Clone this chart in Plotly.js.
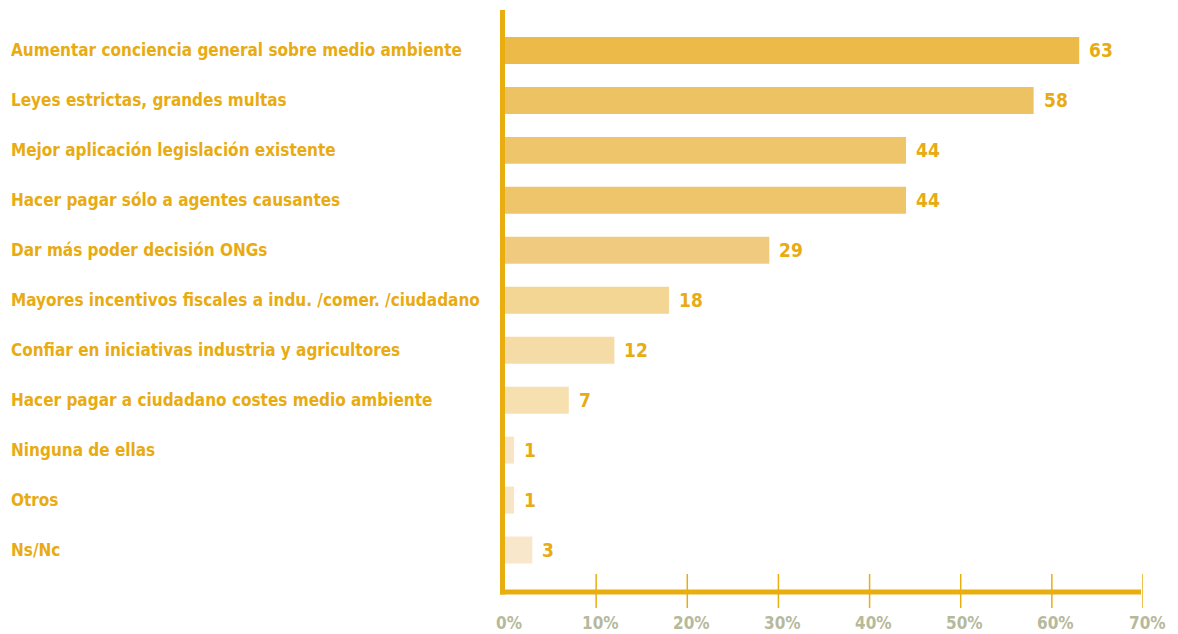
<!DOCTYPE html>
<html>
<head>
<meta charset="utf-8">
<script src="https://cdn.plot.ly/plotly-3.0.1.min.js"></script>
<style>html,body{margin:0;padding:0;background:#fff;}#chart{width:1178px;height:634px;}</style>
</head>
<body>
<div id="chart"></div>
<script>
const categories = [
  "Aumentar conciencia general sobre medio ambiente",
  "Leyes estrictas, grandes multas",
  "Mejor aplicación legislación existente",
  "Hacer pagar sólo a agentes causantes",
  "Dar más poder decisión ONGs",
  "Mayores incentivos fiscales a indu. /comer. /ciudadano",
  "Confiar en iniciativas industria y agricultores",
  "Hacer pagar a ciudadano costes medio ambiente",
  "Ninguna de ellas",
  "Otros",
  "Ns/Nc"
];
const values = [63, 58, 44, 44, 29, 18, 12, 7, 1, 1, 3];
const barColors = ["#ecba48","#edc262","#efc56c","#efc56c","#f0cb7f","#f3d594","#f5dca6","#f6e0af","#f8e5c5","#f8e5c5","#f8e7ca"];
const tickValues = [0, 10, 20, 30, 40, 50, 60, 70];
const tickLabels = ["0%", "10%", "20%", "30%", "40%", "50%", "60%", "70%"];

const FONT = '"DejaVu Sans Condensed", "Liberation Sans Narrow", sans-serif';
const GOLD = '#e8ab12';
const AXIS = '#e8ae10';
const W = 1178, H = 634;
const margin = {l: 505, r: 35, t: 10, b: 42};
const plotW = W - margin.l - margin.r;
const plotH = H - margin.t - margin.b;

const trace = {
  type: 'bar',
  orientation: 'h',
  y: categories,
  x: values,
  marker: {color: barColors, line: {width: 0}},
  hoverinfo: 'none'
};

const annotations = [];
categories.forEach((c, i) => {
  annotations.push({
    xref: 'paper', yref: 'y', x: -(margin.l - 9) / plotW, y: c,
    xanchor: 'left', yanchor: 'middle', showarrow: false,
    text: '<b>' + c + '</b>',
    font: {family: FONT, size: 17, color: GOLD}
  });
  annotations.push({
    xref: 'x', yref: 'y', x: values[i], y: c,
    xanchor: 'left', yanchor: 'middle', showarrow: false, xshift: 8,
    text: '<b>' + values[i] + '</b>',
    font: {family: FONT, size: 19, color: GOLD}
  });
});
tickValues.forEach((v, i) => {
  annotations.push({
    xref: 'x', yref: 'paper', x: v, y: 0, yshift: -31,
    xanchor: 'center', yanchor: 'middle', showarrow: false, xshift: 4,
    text: '<b>' + tickLabels[i] + '</b>',
    font: {family: FONT, size: 17, color: '#b6b99b'}
  });
});

const shapes = [
  {type: 'line', xref: 'paper', yref: 'paper', x0: -2.5 / plotW, x1: -2.5 / plotW, y0: -2.5 / plotH, y1: 1, line: {color: AXIS, width: 5}},
  {type: 'line', xref: 'paper', yref: 'paper', x0: -5 / plotW, x1: (plotW - 2) / plotW, y0: 0, y1: 0, line: {color: AXIS, width: 5}}
];
tickValues.slice(1).forEach(v => {
  shapes.push({type: 'line', xref: 'x', yref: 'paper', x0: v, x1: v, y0: -16 / plotH, y1: 18 / plotH,
    line: {color: AXIS, width: 1.5}});
});

const layout = {
  width: W, height: H,
  margin: margin,
  paper_bgcolor: '#ffffff', plot_bgcolor: '#ffffff',
  showlegend: false,
  bargap: 0.46,
  xaxis: {range: [0, 70], showgrid: false, zeroline: false, showline: false, showticklabels: false, ticks: '', fixedrange: true},
  yaxis: {autorange: false, range: [10.84, -0.81], showgrid: false, zeroline: false, showline: false, showticklabels: false, ticks: '', fixedrange: true},
  annotations: annotations,
  shapes: shapes
};

Plotly.newPlot('chart', [trace], layout, {displayModeBar: false, staticPlot: true});
</script>
</body>
</html>
